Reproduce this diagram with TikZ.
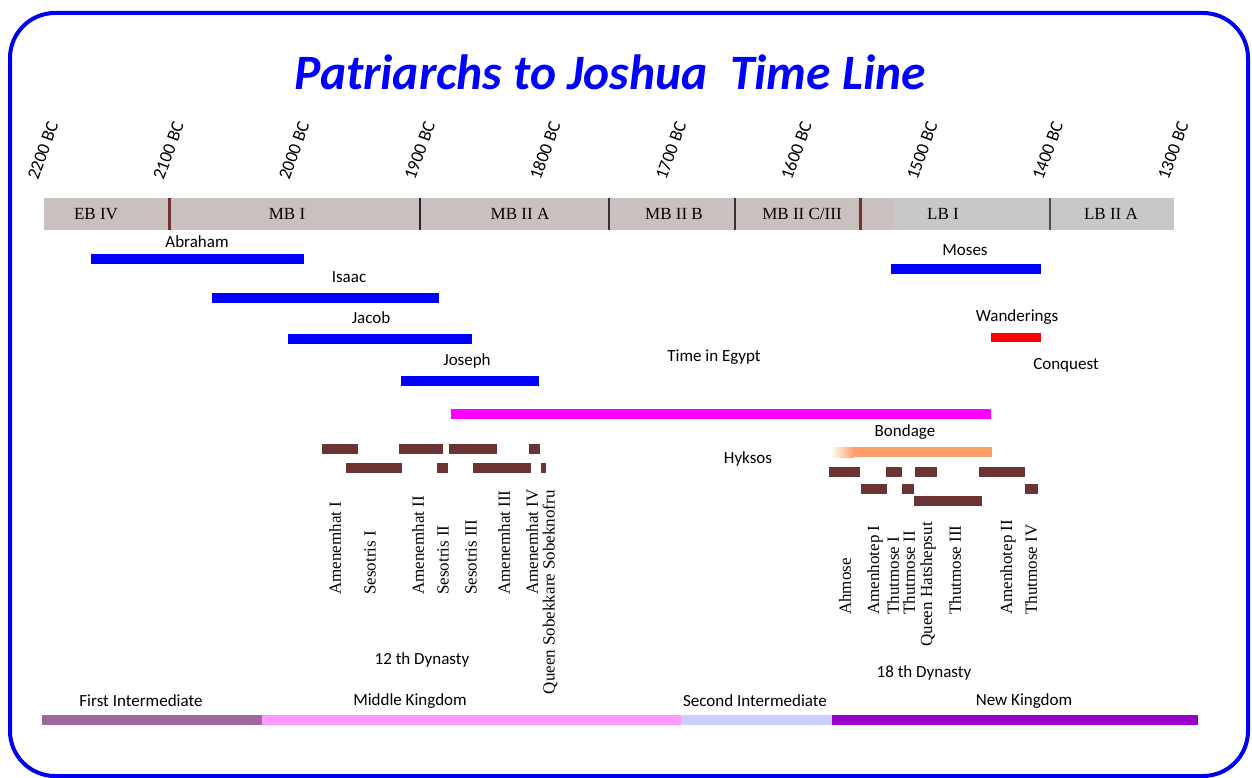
\documentclass[tikz,border=0pt]{standalone}
\usepackage{fontspec}
\setmainfont{Liberation Serif}
\newfontfamily\calfont{Carlito}
\definecolor{frameblue}{HTML}{0000F0}
\definecolor{pblue}{HTML}{0000FF}
\definecolor{barA}{HTML}{CBC0C0}
\definecolor{barB}{HTML}{C8C8C8}
\definecolor{divbrown}{HTML}{6E3232}
\definecolor{phbrown}{HTML}{6B3333}
\definecolor{egypt}{HTML}{FF00FF}
\definecolor{bondage}{HTML}{FFA068}
\definecolor{wander}{HTML}{FF0000}
\definecolor{firstint}{HTML}{9B6A9B}
\definecolor{midking}{HTML}{FF99FF}
\definecolor{secint}{HTML}{CCCCFF}
\definecolor{newking}{HTML}{9900CC}
\begin{document}
\begin{tikzpicture}[x=1pt,y=-1pt,
  lbl/.style={font=\calfont\fontsize{17}{20}\selectfont, inner sep=0pt},
  yr/.style={font=\calfont\fontsize{18}{20}\selectfont, rotate=70, anchor=base west, inner sep=0pt},
  per/.style={font=\fontsize{17}{20}\selectfont, inner sep=0pt},
  ph/.style={font=\fontsize{17}{20}\selectfont, rotate=90, inner sep=0pt},
  phw/.style={ph, anchor=west},
  phe/.style={ph, anchor=east},
  lifebar/.style={fill=pblue},
  rulerbar/.style={fill=phbrown},
  thindiv/.style={line width=1.5pt},
  thickdiv/.style={line width=3pt, draw=divbrown},
]
\useasboundingbox (0,0) rectangle (1252,778);
\fill[white] (0,0) rectangle (1252,778);
% frame
\draw[frameblue, line width=4pt, rounded corners=45pt] (10,13) rectangle (1248,776);
% title
\node[font=\calfont\bfseries\itshape\fontsize{49.5}{56}\selectfont, text=pblue, inner sep=0pt] (title) at (610,72) {Patriarchs to Joshua\ \ Time Line};
% years
\node[yr] (y2200) at (38,181) {2200 BC};
\node[yr] (y2100) at (163.6,181) {2100 BC};
\node[yr] (y2000) at (289.2,181) {2000 BC};
\node[yr] (y1900) at (414.8,181) {1900 BC};
\node[yr] (y1800) at (540.4,181) {1800 BC};
\node[yr] (y1700) at (666,181) {1700 BC};
\node[yr] (y1600) at (791.6,181) {1600 BC};
\node[yr] (y1500) at (917.2,181) {1500 BC};
\node[yr] (y1400) at (1042.8,181) {1400 BC};
\node[yr] (y1300) at (1168.4,181) {1300 BC};
% archaeological period bar
\fill[barA] (44,198) rectangle (893,230);
\fill[barB] (893,198) rectangle (1174.4,230);
\draw[thickdiv] (169.6,198) -- (169.6,230);
\draw[thindiv, black!85] (420,198) -- (420,230);
\draw[thindiv, black!80] (609,198) -- (609,230);
\draw[thindiv, black!80] (735,198) -- (735,230);
\draw[thickdiv] (860,198) -- (860,230);
\draw[thindiv, black!70] (1050,198) -- (1050,230);
\node[per] (ebiv) at (96,214) {EB IV};
\node[per] (mbi) at (287,214) {MB I};
\node[per] (mbiia) at (520,214) {MB II A};
\node[per] (mbiib) at (674,214) {MB II B};
\node[per] (mbiic) at (802,214) {MB II C/III};
\node[per] (lbi) at (943,214) {LB I};
\node[per] (lbiia) at (1111,214) {LB II A};
% patriarchs
\fill[lifebar] (91,254) rectangle (304,264);
\node[lbl] (abraham) at (197,242) {Abraham};
\fill[lifebar] (212,293) rectangle (439,303);
\node[lbl] (isaac) at (349,277) {Isaac};
\fill[lifebar] (288,334) rectangle (472,344);
\node[lbl] (jacob) at (371,318) {Jacob};
\fill[lifebar] (401,376) rectangle (539,386);
\node[lbl] (joseph) at (467,361) {Joseph};
\fill[lifebar] (891,264) rectangle (1041,274);
\node[lbl] (moses) at (965,250) {Moses};
\fill[wander] (991,333) rectangle (1041,342);
\node[lbl] (wanderings) at (1017,317) {Wanderings};
\node[lbl] (conquest) at (1066,365) {Conquest};
% egypt
\node[lbl] (egypttxt) at (714,357) {Time in Egypt};
\fill[egypt] (451,409) rectangle (991,419);
\node[lbl] (bondagetxt) at (905,432) {Bondage};
\shade[left color=white, right color=bondage] (830,447) rectangle (854,457);
\fill[bondage] (853.5,447) rectangle (992,457);
\node[lbl] (hyksos) at (748,459) {Hyksos};
% 12th dynasty bars
\fill[rulerbar] (322,444) rectangle (358,454);
\fill[rulerbar] (399,444) rectangle (443,454);
\fill[rulerbar] (449,444) rectangle (497,454);
\fill[rulerbar] (529,444) rectangle (540,454);
\fill[rulerbar] (346,463) rectangle (402,473);
\fill[rulerbar] (437,463) rectangle (448,473);
\fill[rulerbar] (473,463) rectangle (531,473);
\fill[rulerbar] (541,463) rectangle (546,473);
% 12th dynasty names
\node[phw] (amen1) at (335,595) {Amenemhat I};
\node[phw] (ses1) at (370,595) {Sesotris I};
\node[phw] (amen2) at (418,595) {Amenemhat II};
\node[phw] (ses2) at (443,595) {Sesotris II};
\node[phw] (ses3) at (471,595) {Sesotris III};
\node[phw] (amen3) at (504,595) {Amenemhat III};
\node[phw] (amen4) at (532,595) {Amenemhat IV};
\node[phe] (sobek) at (550,490) {Queen Sobekkare Sobeknofru};
\node[lbl] (dyn12) at (422,660) {12 th Dynasty};
% 18th dynasty bars
\fill[rulerbar] (829,467) rectangle (860,477);
\fill[rulerbar] (886,467) rectangle (902,477);
\fill[rulerbar] (915,467) rectangle (937,477);
\fill[rulerbar] (979,467) rectangle (1025,477);
\fill[rulerbar] (861,484) rectangle (887,494);
\fill[rulerbar] (902,484) rectangle (914,494);
\fill[rulerbar] (1025,484) rectangle (1038,494);
\fill[rulerbar] (914,496) rectangle (982,506);
% 18th dynasty names
\node[phw] (ahmose) at (845,615) {Ahmose};
\node[phw] (amenh1) at (875,615) {Amenhotep I};
\node[phw] (thut1) at (893,615) {Thutmose I};
\node[phw] (thut2) at (909,615) {Thutmose II};
\node[phe] (hatshep) at (928,522) {Queen Hatshepsut};
\node[phw] (thut3) at (955,615) {Thutmose III};
\node[phw] (amenh2) at (1008,615) {Amenhotep II};
\node[phw] (thut4) at (1031,615) {Thutmose IV};
\node[lbl] (dyn18) at (924,673) {18 th Dynasty};
% kingdoms
\fill[firstint] (42,715) rectangle (262,725);
\fill[midking] (262,715) rectangle (681,725);
\fill[secint] (681,715) rectangle (832,725);
\fill[newking] (832,715) rectangle (1198,725);
\node[lbl] (fi) at (141,701) {First Intermediate};
\node[lbl] (mk) at (410,701) {Middle Kingdom};
\node[lbl] (si) at (755,701) {Second Intermediate};
\node[lbl] (nk) at (1024,701) {New Kingdom};
\end{tikzpicture}
\end{document}
